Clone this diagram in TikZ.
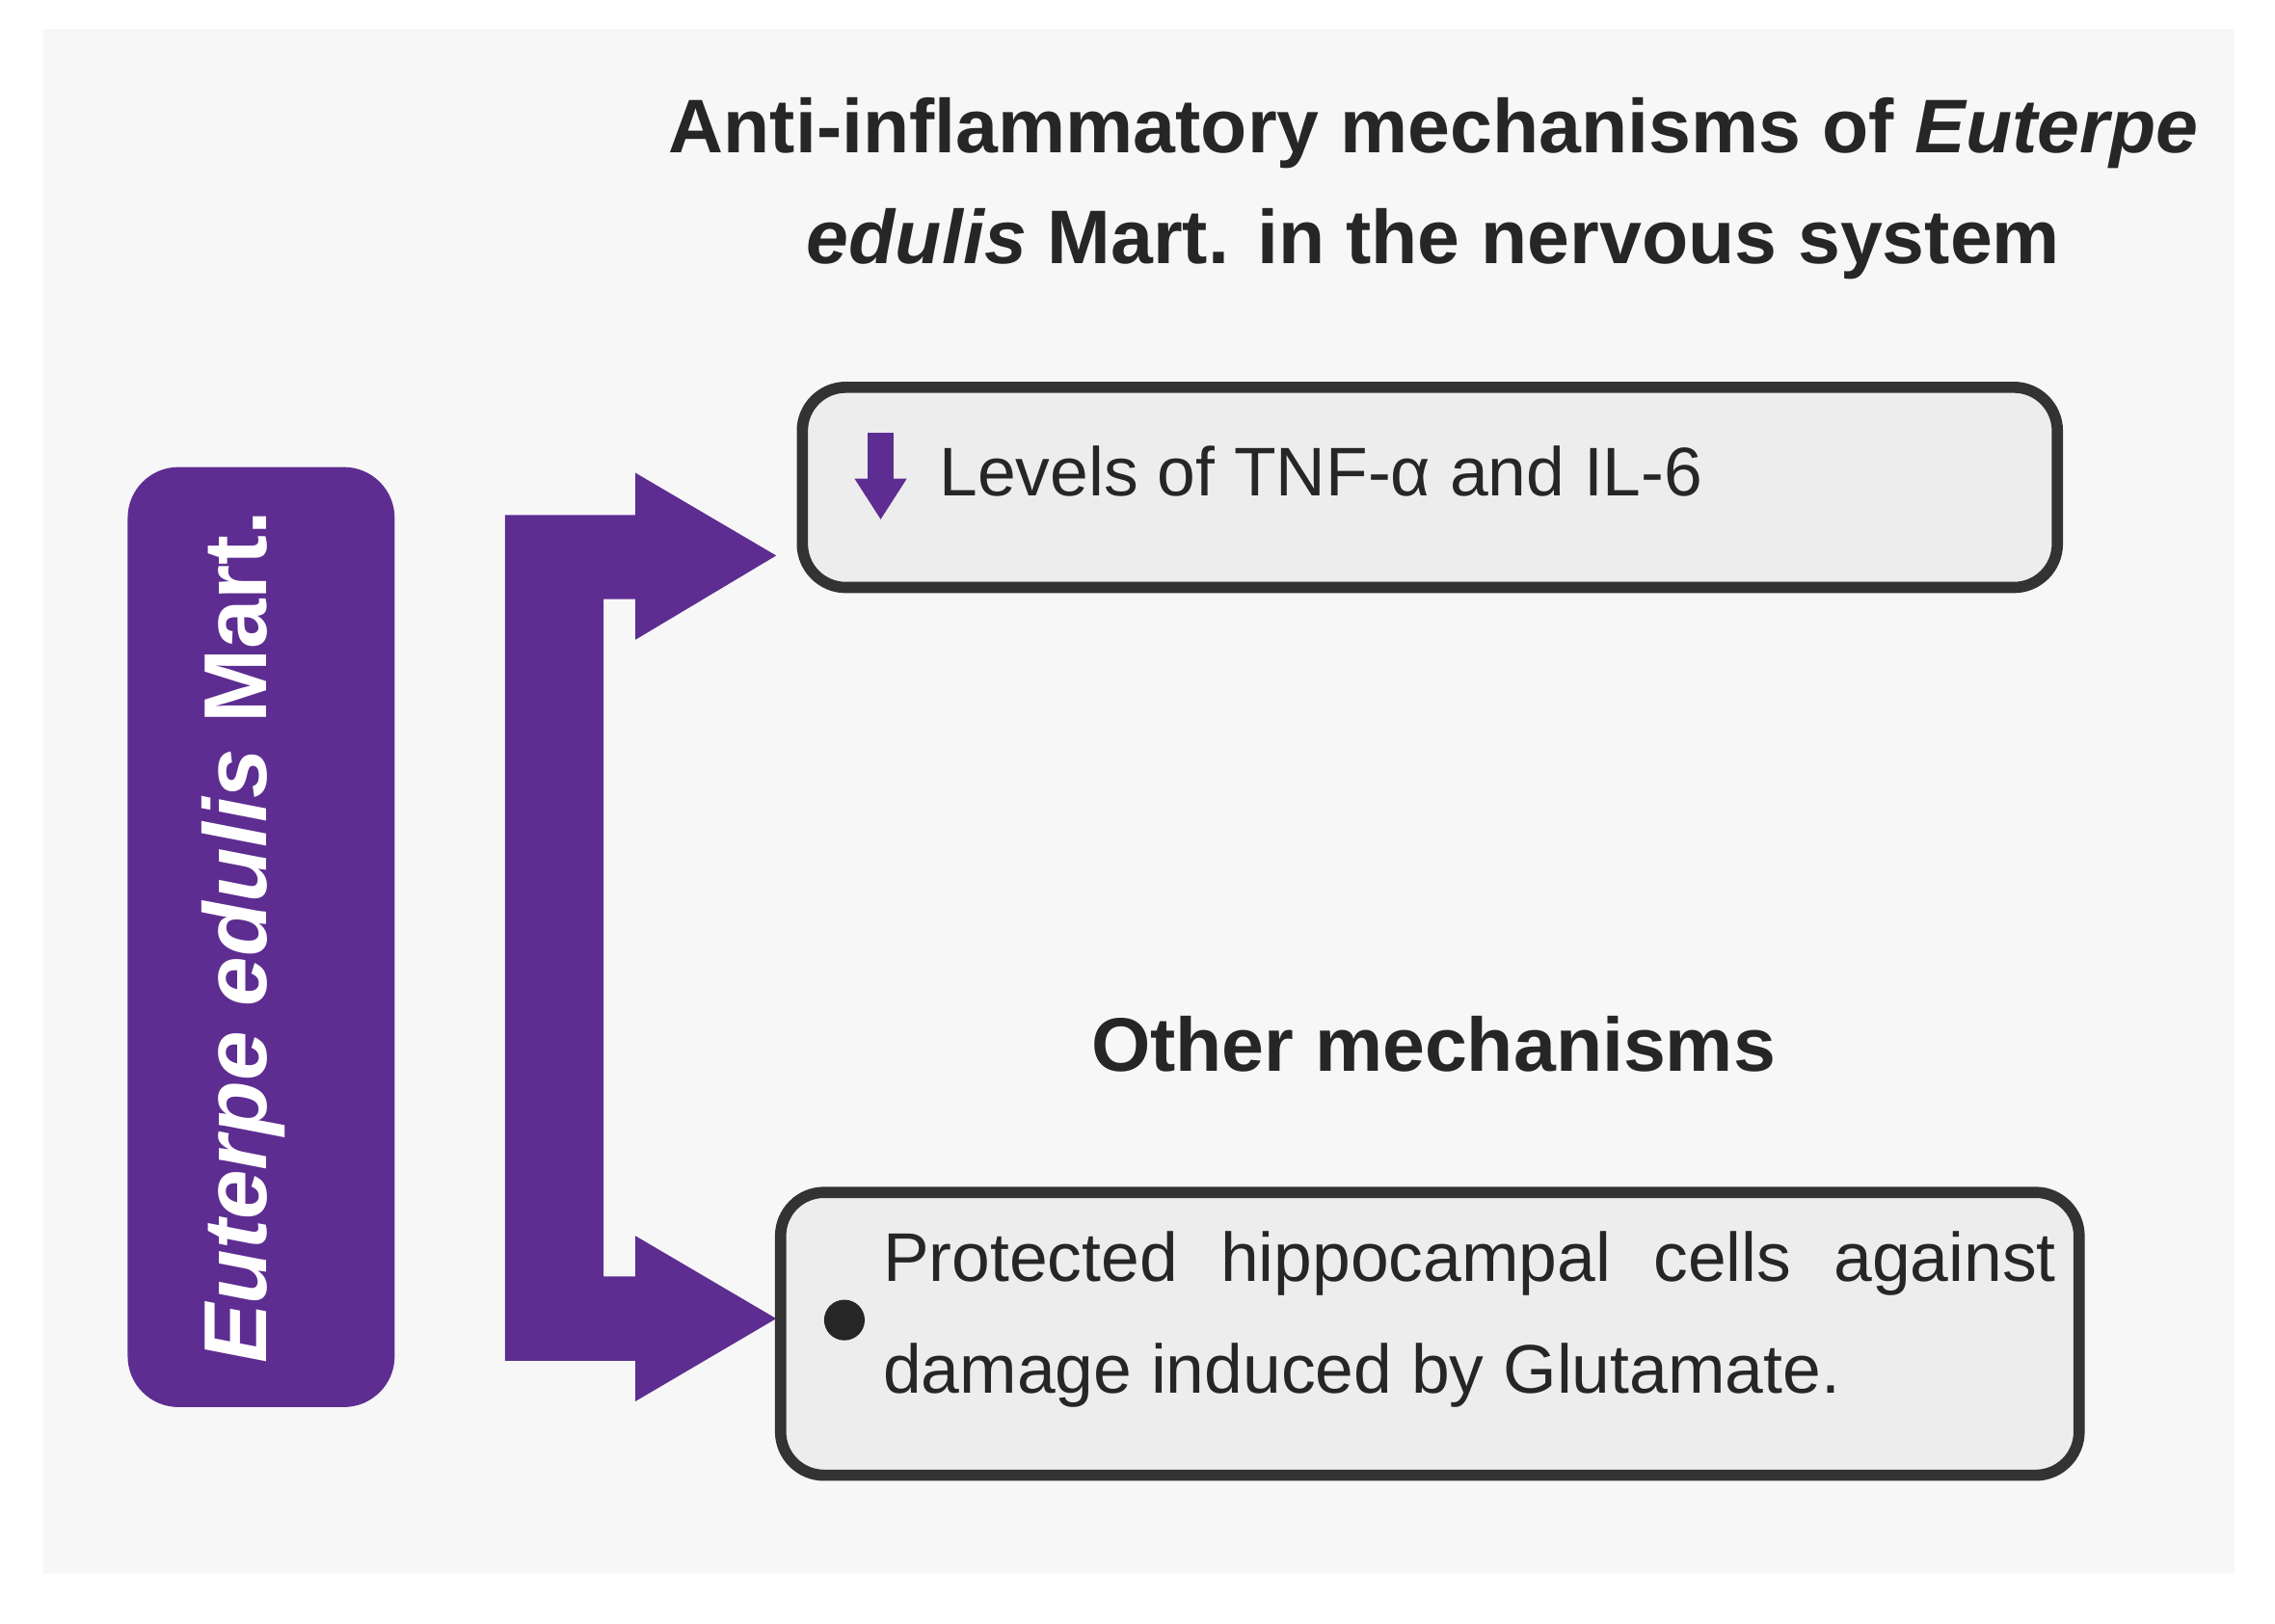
\documentclass[tikz,border=0pt]{standalone}
\usepackage{fontspec}
\setmainfont{Liberation Sans}
\definecolor{purp}{HTML}{5E2D91}
\definecolor{boxfill}{HTML}{EDEDED}
\definecolor{edge}{HTML}{333333}
\begin{document}
\begin{tikzpicture}[x=0.01cm,y=-0.01cm,
  mbox/.style={draw=edge,line width=2.2pt,fill=boxfill,rounded corners=0.3cm},
  ttl/.style={font=\fontsize{14.9}{21.6}\selectfont\bfseries,text=black!85,align=center},
  btxt/.style={font=\fontsize{13.5}{22}\selectfont,text=black!85}]
\useasboundingbox (0,0) rectangle (1568,1119);
\fill[gray!6] (30,20) rectangle (1540,1085);
\node[ttl] (title) at (988,130) {Anti-inflammatory mechanisms of \textit{Euterpe}\\ \textit{edulis} Mart. in the nervous system};
\fill[purp,rounded corners=0.35cm] (88,322) rectangle (272,970);
\node[rotate=90,text=white,font=\fontsize{17.5}{20}\selectfont\bfseries] (plant) at (168,646) {\textit{Euterpe edulis} Mart.};
\fill[purp] (348,355) -- (438,355) -- (438,326) -- (535,383) -- (438,441) -- (438,413) -- (416,413) -- (416,880) -- (438,880) -- (438,852) -- (535,909) -- (438,966) -- (438,938) -- (348,938) -- cycle;
\draw[mbox] (553,267) rectangle (1418,405);
\node[btxt,anchor=west] (t1) at (635,325) {Levels of TNF-α and IL-6};
\fill[purp] (598,298) rectangle (616,331);
\fill[purp] (589,330) -- (625,330) -- (607,358) -- cycle;
\node[ttl] (other) at (988,720) {Other mechanisms};
\draw[mbox] (538,822) rectangle (1433,1017);
\fill[black!85] (582,910) circle (14);
\node[btxt,anchor=north west,text width=8.08cm,align=justify,inner sep=0pt] (t2) at (608,848) {\setlength{\baselineskip}{77\dimexpr 0.01cm\relax}Protected hippocampal cells against damage induced by Glutamate.};
\end{tikzpicture}
\end{document}
